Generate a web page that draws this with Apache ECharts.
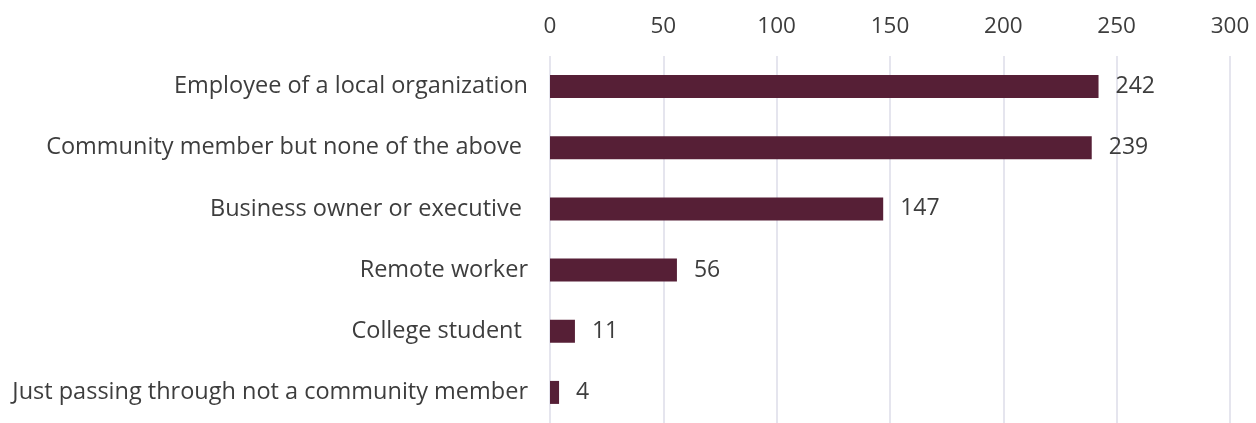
<!DOCTYPE html>
<html>
<head>
<meta charset="utf-8">
<script src="https://cdn.jsdelivr.net/npm/echarts@6/dist/echarts.min.js"></script>
<style>
  html, body { margin: 0; padding: 0; background: #ffffff; }
  #chart { width: 1256px; height: 423px; }
</style>
</head>
<body>
<div id="chart"></div>
<script>
// Respondent roles, listed top to bottom
const categories = [
  'Employee of a local organization',
  'Community member but none of the above ',
  'Business owner or executive ',
  'Remote worker',
  'College student ',
  'Just passing through not a community member'
];
const counts = [242, 239, 147, 56, 11, 4];
const axisMin = 0;
const axisMax = 300;
const axisStep = 50;

const FONT = '"Open Sans", "Noto Sans", sans-serif';
const TEXT = '#3d3d3d';
const chart = echarts.init(document.getElementById('chart'));
chart.setOption({
  animation: false,
  grid: { left: 550, right: 26, top: 56, height: 372, containLabel: false },
  xAxis: {
    type: 'value',
    position: 'top',
    min: axisMin,
    max: axisMax,
    interval: axisStep,
    axisLine: { show: false },
    axisTick: { show: false },
    axisLabel: { color: TEXT, fontFamily: FONT, fontSize: 22.5, margin: 18 },
    splitLine: { show: true, lineStyle: { color: '#dcdde8', width: 1.5 } }
  },
  yAxis: {
    type: 'category',
    inverse: true,
    data: categories,
    axisLine: { show: false },
    axisTick: { show: false },
    axisLabel: {
      color: TEXT, fontFamily: FONT, fontSize: 23.5, margin: 22,
      padding: [4, 0, 0, 0]
    }
  },
  series: [{
    type: 'bar',
    data: counts,
    barWidth: 23,
    itemStyle: { color: '#561f36' },
    label: {
      show: true,
      position: 'right',
      distance: 17,
      color: TEXT,
      fontFamily: FONT,
      fontSize: 23,
      padding: [4, 0, 0, 0]
    }
  }]
});
</script>
</body>
</html>
